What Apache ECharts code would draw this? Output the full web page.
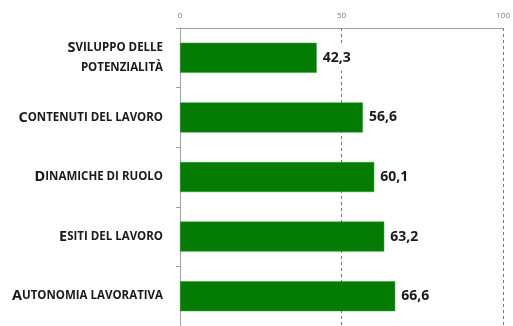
<!DOCTYPE html>
<html>
<head>
<meta charset="utf-8">
<script src="https://cdn.jsdelivr.net/npm/echarts@6/dist/echarts.min.js"></script>
<style>
html,body{margin:0;padding:0;background:#fff;}
#main{width:513px;height:326px;}
</style>
</head>
<body>
<div id="main"></div>
<script>
// Category labels: [initial capital, rest in small caps (line breaks with \n)]
const categoryInitials = ['S', 'C', 'D', 'E', 'A'];
const categoryRests = ['viluppo delle\npotenzialità', 'ontenuti del lavoro', 'inamiche di ruolo', 'siti del lavoro', 'utonomia lavorativa'];
const categories = ['Sviluppo delle potenzialità', 'Contenuti del lavoro', 'Dinamiche di ruolo', 'Esiti del lavoro', 'Autonomia lavorativa'];
const values = [42.3, 56.6, 60.1, 63.2, 66.6];
const xTicks = [0, 50, 100];

const FONT = '"Open Sans", "Liberation Sans", sans-serif';

function smallCapsLabel(v, idx) {
  const i = categories.indexOf(v);
  const lines = categoryRests[i].split('\n');
  return lines.map((ln, k) => {
    const up = ln.toUpperCase();
    if (k === 0) return '{b|' + categoryInitials[i] + '}{s|' + up + '}';
    return '{s|' + up + '}';
  }).join('\n');
}

const chart = echarts.init(document.getElementById('main'), null, {renderer: 'canvas'});
chart.setOption({
  animation: false,
  backgroundColor: '#ffffff',
  grid: {left: 180, right: 9, top: 28, bottom: -2, containLabel: false},
  xAxis: {
    type: 'value',
    position: 'top',
    min: xTicks[0],
    max: xTicks[xTicks.length - 1],
    interval: xTicks[1] - xTicks[0],
    axisLine: {show: true, lineStyle: {color: '#a0a0a0', width: 1}},
    axisTick: {show: false},
    axisLabel: {color: '#777', fontSize: 8, fontFamily: FONT, margin: 8},
    splitLine: {show: true, lineStyle: {color: '#777', type: [3, 3], width: 1}}
  },
  yAxis: {
    type: 'category',
    inverse: true,
    data: categories,
    axisLine: {show: true, lineStyle: {color: '#a0a0a0', width: 1}},
    axisTick: {show: true, length: 4, lineStyle: {color: '#a0a0a0'}},
    axisLabel: {
      margin: 17,
      align: 'right',
      formatter: smallCapsLabel,
      rich: {
        b: {fontSize: 14.5, fontWeight: 'bold', color: '#1a1a1a', fontFamily: FONT, lineHeight: 20},
        s: {fontSize: 11.5, fontWeight: 'bold', color: '#1a1a1a', fontFamily: FONT, lineHeight: 20}
      }
    },
    splitLine: {show: false}
  },
  series: [{
    type: 'bar',
    data: values,
    barWidth: 30,
    itemStyle: {color: '#047c04', borderColor: '#2f9a2f', borderWidth: 0.5},
    label: {
      show: true,
      position: 'right',
      distance: 3,
      fontSize: 14,
      fontWeight: 'bold',
      color: '#1a1a1a',
      fontFamily: FONT,
      backgroundColor: '#ffffff',
      padding: [6, 3, 6, 3],
      formatter: p => String(p.value).replace('.', ',')
    }
  }]
});
</script>
</body>
</html>
